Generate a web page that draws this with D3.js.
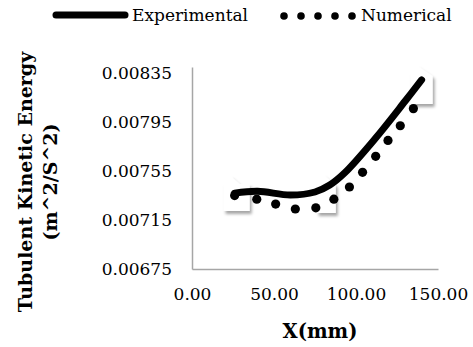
<!DOCTYPE html>
<html>
<head>
<meta charset="utf-8">
<script src="https://cdn.jsdelivr.net/npm/d3@7"></script>
<style>
  html, body { margin: 0; padding: 0; background: #fff; }
  svg text { font-family: "DejaVu Serif", "Liberation Serif", serif; fill: #000; }
</style>
</head>
<body>
<div class="chart"></div>
<script>
// data
const expX = [26, 40, 60, 75, 84, 93, 111.5, 130, 140];
const expY = [0.00737, 0.007385, 0.007354, 0.007379, 0.007436, 0.007534, 0.007812, 0.008122, 0.008294];
const numX = [26, 39.5, 51, 63, 75.5, 86.5, 96, 104, 112, 119.5, 127, 135];
const numY = [0.00735, 0.00732, 0.00728, 0.00724, 0.00725, 0.00732, 0.00742, 0.00754, 0.00767, 0.00780, 0.00792, 0.00806];
const xTicks = [0, 50, 100, 150];
const yTicks = [0.00675, 0.00715, 0.00755, 0.00795, 0.00835];
const seriesNames = ["Experimental", "Numerical"];
const calloutIdx = [0, 4, 8]; // experimental points that carry empty label boxes

const width = 473, height = 347;
const plot = {left: 192, right: 438, top: 67, bottom: 269};

const svg = d3.select(".chart").append("svg")
  .attr("width", width)
  .attr("height", height);

const defs = svg.append("defs");
const shadow = defs.append("filter").attr("id", "shadow")
  .attr("x", "-50%").attr("y", "-50%").attr("width", "200%").attr("height", "200%");
shadow.append("feDropShadow")
  .attr("dx", 2).attr("dy", 3).attr("stdDeviation", 1.5)
  .attr("flood-color", "#000").attr("flood-opacity", 0.35);

const x = d3.scaleLinear().domain([0, 150]).range([plot.left, plot.right]);
const y = d3.scaleLinear().domain([0.00675, 0.0084]).range([plot.bottom, plot.top]);

// axes
const xAxis = d3.axisBottom(x).tickValues(xTicks).tickSize(0).tickPadding(19)
  .tickFormat(d3.format(".2f"));
const yAxis = d3.axisLeft(y).tickValues(yTicks).tickSize(0).tickPadding(20)
  .tickFormat(d3.format(".5f"));

const gx = svg.append("g").attr("transform", "translate(0," + plot.bottom + ")").call(xAxis);
const gy = svg.append("g").attr("transform", "translate(" + plot.left + ",0)").call(yAxis);
[gx, gy].forEach(g => {
  g.select(".domain").attr("stroke", "#a6a6a6").attr("stroke-width", 1.5);
  g.selectAll("text").attr("font-size", 17).attr("font-family", "DejaVu Serif").attr("fill", "#000");
});

// empty data label boxes with shadows
svg.append("g").selectAll("path")
  .data(calloutIdx)
  .enter().append("path")
  .attr("transform", i => "translate(" + x(expX[i]) + "," + y(expY[i]) + ")")
  .attr("d", (i, k) => k === 2
    ? "M-11,-7 L-4,-14 L11,-4 L11,24 L-11,24 Z"
    : k === 1
      ? "M-13,-3 L-6,-10 L6,0 L6,28 L-13,28 Z"
      : "M-11,-10 L-4,-17 L5,-9 L15,-9 L15,18 L-11,18 Z")
  .attr("fill", "#fff")
  .attr("filter", "url(#shadow)");

// experimental line
const line = d3.line()
  .x(d => x(d[0]))
  .y(d => y(d[1]))
  .curve(d3.curveCatmullRom.alpha(0.5));

svg.append("path")
  .datum(expX.map((v, i) => [v, expY[i]]))
  .attr("fill", "none")
  .attr("stroke", "#000")
  .attr("stroke-width", 7)
  .attr("stroke-linecap", "round")
  .attr("d", line);

// numerical dots
svg.append("g").selectAll("circle")
  .data(numX.map((v, i) => [v, numY[i]]))
  .enter().append("circle")
  .attr("cx", d => x(d[0]))
  .attr("cy", d => y(d[1]))
  .attr("r", 4.6)
  .attr("fill", "#000");

// axis titles
svg.append("text")
  .attr("x", 320).attr("y", 338)
  .attr("text-anchor", "middle")
  .attr("font-size", 19.5).attr("font-weight", "bold")
  .text("X(mm)");

const yt = svg.append("text")
  .attr("transform", "translate(32,182) rotate(-90)")
  .attr("text-anchor", "middle")
  .attr("font-size", 19).attr("font-weight", "bold");
yt.append("tspan").attr("x", 0).attr("dy", 0).text("Tubulent Kinetic Energy");
yt.append("tspan").attr("x", 0).attr("dy", 25).text("(m^2/S^2)");

// legend
const legend = svg.append("g");
legend.append("line")
  .attr("x1", 56).attr("x2", 125).attr("y1", 15).attr("y2", 15)
  .attr("stroke", "#000").attr("stroke-width", 7).attr("stroke-linecap", "round");
legend.append("text").attr("x", 132).attr("y", 21).attr("font-size", 17).text(seriesNames[0]);
legend.append("g").selectAll("circle")
  .data(d3.range(5))
  .enter().append("circle")
  .attr("cx", d => 284 + d * 17)
  .attr("cy", 16)
  .attr("r", 3.8)
  .attr("fill", "#000");
legend.append("text").attr("x", 361).attr("y", 21).attr("font-size", 17).text(seriesNames[1]);
</script>
</body>
</html>
